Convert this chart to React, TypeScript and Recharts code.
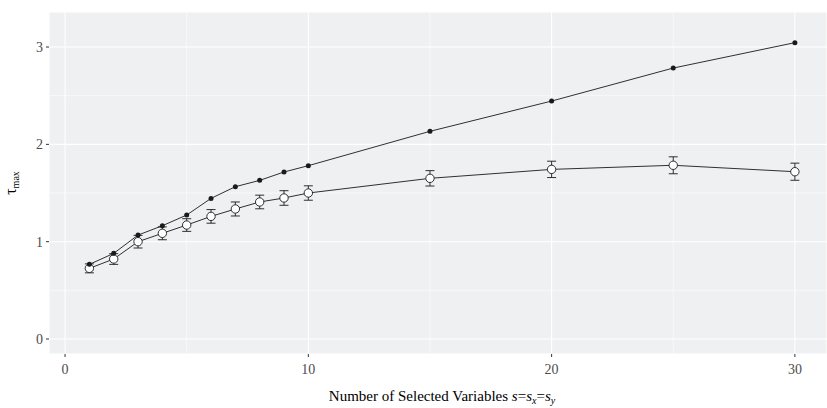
import { LineChart, Line, XAxis, YAxis, CartesianGrid, ReferenceLine, ErrorBar } from 'recharts'

const sizes = [1, 2, 3, 4, 5, 6, 7, 8, 9, 10, 15, 20, 25, 30]
const tauOracle = [0.767, 0.88, 1.068, 1.164, 1.274, 1.445, 1.565, 1.63, 1.716, 1.781, 2.134, 2.445, 2.784, 3.045]
const tauEstimated = [0.726, 0.822, 1.0, 1.086, 1.171, 1.26, 1.336, 1.408, 1.449, 1.5, 1.651, 1.743, 1.785, 1.719]
const tauSe = [0.046, 0.055, 0.065, 0.066, 0.065, 0.07, 0.072, 0.07, 0.075, 0.074, 0.079, 0.084, 0.087, 0.088]

const xTicks = [0, 10, 20, 30]
const yTicks = [0, 1, 2, 3]
const xMinor = [5, 15, 25]
const yMinor = [0.5, 1.5, 2.5]

const data = sizes.map((s, i) => ({
  s,
  oracle: tauOracle[i],
  est: tauEstimated[i],
  se: tauSe[i],
}))

const font = '"Liberation Serif", "DejaVu Serif", serif'
const ink = '#1a1a1a'

function OpenDot(props: any) {
  const { cx, cy } = props
  if (cx == null || cy == null) return null
  return <circle cx={cx} cy={cy} r={4.2} fill="#fff" stroke={ink} strokeWidth={0.9} />
}

function FilledDot(props: any) {
  const { cx, cy } = props
  if (cx == null || cy == null) return null
  return <circle cx={cx} cy={cy} r={2.5} fill={ink} stroke="none" />
}

export default function App() {
  return (
    <div style={{ position: 'absolute', left: 0, top: 0, width: 827, height: 408, background: '#fff' }}>
      <LineChart width={827} height={408} data={data} margin={{ top: 12, right: 0, bottom: 24, left: 0 }}>
        <CartesianGrid fill="#EFF0F2" stroke="#fff" strokeWidth={1.1} />
        {xMinor.map((v) => (
          <ReferenceLine key={'xm' + v} x={v} stroke="#fff" strokeWidth={0.55} />
        ))}
        {yMinor.map((v) => (
          <ReferenceLine key={'ym' + v} y={v} stroke="#fff" strokeWidth={0.55} />
        ))}
        <XAxis
          dataKey="s"
          type="number"
          domain={[-0.66, 31.32]}
          ticks={xTicks}
          allowDataOverflow
          axisLine={false}
          tickLine={{ stroke: '#333' }}
          tickSize={3}
          tickMargin={7}
          height={30}
          tick={{ fill: '#4D4D4D', fontSize: 14, fontFamily: font }}
        />
        <YAxis
          type="number"
          domain={[-0.154, 3.36]}
          ticks={yTicks}
          allowDataOverflow
          axisLine={false}
          tickLine={{ stroke: '#333' }}
          tickSize={3}
          tickMargin={3}
          width={49}
          tick={{ fill: '#4D4D4D', fontSize: 14, fontFamily: font }}
        />
        <Line
          dataKey="est"
          stroke={ink}
          strokeWidth={0.9}
          dot={<OpenDot />}
          activeDot={false}
          isAnimationActive={false}
        >
          <ErrorBar dataKey="se" direction="y" width={4.5} stroke={ink} strokeWidth={0.9} />
        </Line>
        <Line
          dataKey="oracle"
          stroke={ink}
          strokeWidth={0.9}
          dot={<FilledDot />}
          activeDot={false}
          isAnimationActive={false}
        />
        <text x={442} y={401} textAnchor="middle" fontFamily={font} fontSize={15} fill="#000">
          Number of Selected Variables <tspan fontStyle="italic">s</tspan>=<tspan fontStyle="italic">s</tspan>
          <tspan fontStyle="italic" fontSize={10} dy={3}>x</tspan>
          <tspan dy={-3}>=</tspan>
          <tspan fontStyle="italic">s</tspan>
          <tspan fontStyle="italic" fontSize={10} dy={3}>y</tspan>
        </text>
        <text x={16} y={183} transform="rotate(-90 16 183)" textAnchor="middle" fontFamily={font} fontSize={16} fill="#000">
          τ<tspan fontSize={10} dy={3}>max</tspan>
        </text>
      </LineChart>
    </div>
  )
}
